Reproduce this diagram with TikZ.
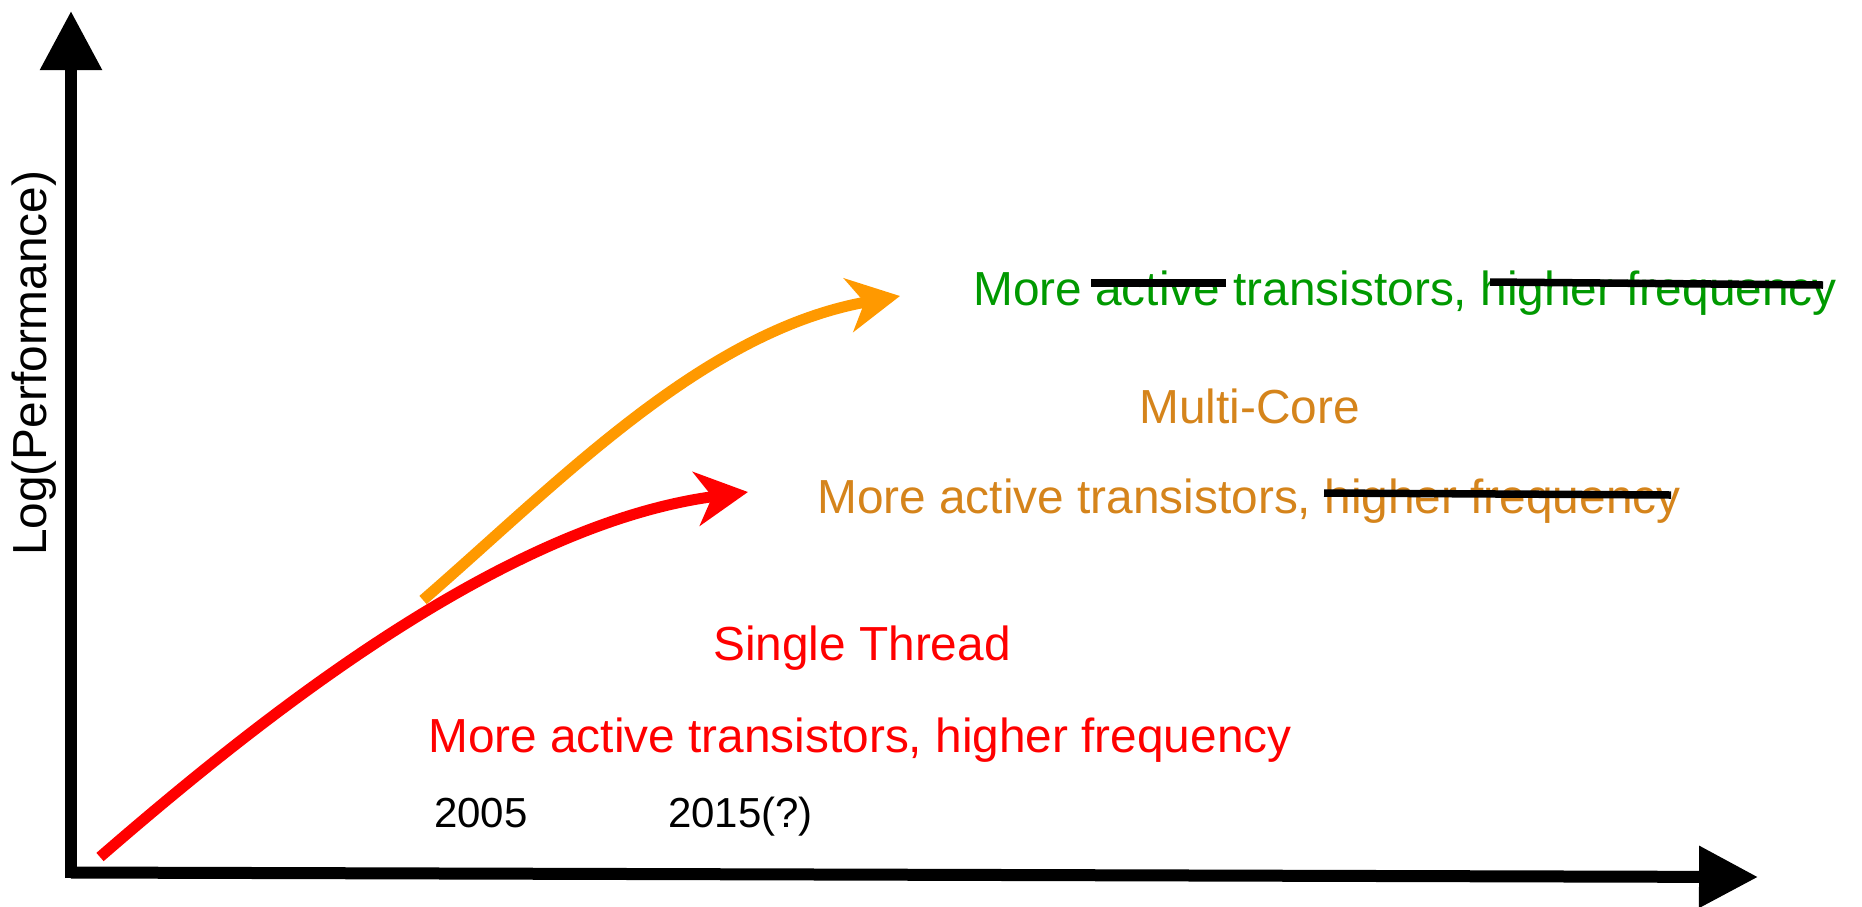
\documentclass[tikz,border=0pt]{standalone}
\usepackage{fontspec}
\setmainfont{Liberation Sans}
\usetikzlibrary{arrows.meta}
\definecolor{redc}{RGB}{255,0,0}
\definecolor{ortext}{RGB}{213,132,27}
\definecolor{orarrow}{RGB}{255,153,0}
\definecolor{greenc}{RGB}{0,153,0}
\begin{document}
\begin{tikzpicture}[x=1pt,y=-1pt,
  big/.style={font=\fontsize{47.8pt}{57pt}\selectfont, inner sep=0pt, anchor=base west},
  yr/.style={font=\fontsize{42pt}{50pt}\selectfont, inner sep=0pt, anchor=base west},
  axisline/.style={line width=12pt, draw=black},
  curveline/.style={line width=11pt, line cap=butt, line join=round},
  strikeline/.style={line width=7.5pt, draw=black},
  tipstealth/.style={-{Stealth[length=52pt,width=54pt,inset=16pt]}}]
\useasboundingbox (0,0) rectangle (1862,906);

% texts
\node[big, text=greenc] (gText) at (973,305) {More active transistors, higher frequency};
\node[big, text=ortext] (mcTitle) at (1139,423) {Multi-Core};
\node[big, text=ortext] (mcText) at (817,513) {More active transistors, higher frequency};
\node[big, text=redc] (stTitle) at (713,660) {Single Thread};
\node[big, text=redc] (stText) at (428,752) {More active transistors, higher frequency};
\node[yr] (y2005) at (434,827) {2005};
\node[yr] (y2015) at (668,827) {2015(?)};
\node[big, rotate=90, anchor=base west] (ylab) at (46,556) {Log(Performance)};

% axes
\coordinate (origin) at (71,878);
\coordinate (ytip) at (71,11);
\coordinate (hstart) at (71,872.5);
\coordinate (xtip) at (1758,877);
\draw[axisline, -{Triangle[length=59pt,width=59pt]}] (origin) -- (ytip);
\draw[axisline, -{Triangle[length=59pt,width=59pt]}] (hstart) -- (xtip);

% curves
\coordinate (os) at (423,600);
\coordinate (oe) at (900,296);
\draw[curveline, draw=orarrow, tipstealth] (os) .. controls (559,482) and (703,331) .. (oe);
\coordinate (rs) at (100,857);
\coordinate (re) at (748,492);
\draw[curveline, draw=redc, tipstealth] (rs) .. controls (266,713) and (505,524) .. (re);

% strike-throughs
\coordinate (s1a) at (1091,283);
\coordinate (s1b) at (1226,283);
\coordinate (s2a) at (1490,282);
\coordinate (s2b) at (1823,285);
\coordinate (s3a) at (1324,493);
\coordinate (s3b) at (1671,495);
\draw[strikeline] (s1a) -- (s1b);
\draw[strikeline] (s2a) -- (s2b);
\draw[strikeline] (s3a) -- (s3b);
\end{tikzpicture}
\end{document}
